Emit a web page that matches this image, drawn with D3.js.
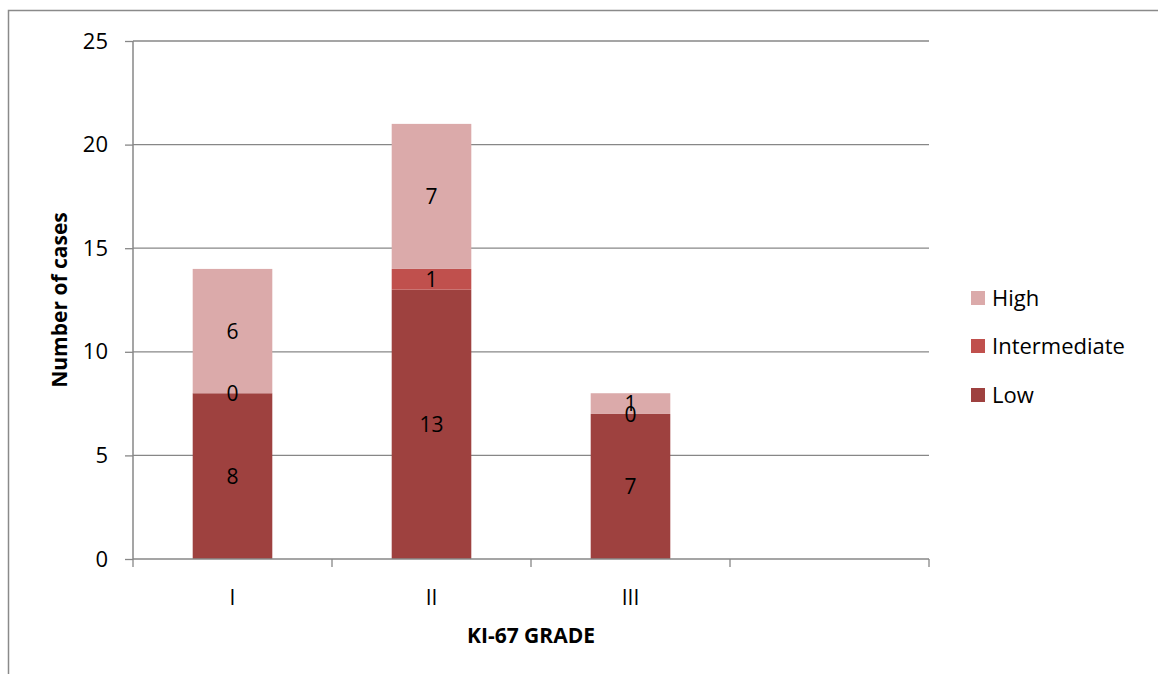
<!DOCTYPE html>
<html><head><meta charset="utf-8">
<script src="https://cdn.jsdelivr.net/npm/d3@7"></script>
<style>body{margin:0;background:#fff}svg{display:block}text{font-family:"Open Sans","Noto Sans",sans-serif}</style>
</head><body>
<script>
const categories = ["I", "II", "III", ""];
const low = [8, 13, 7, null];
const intermediate = [0, 1, 0, null];
const high = [6, 7, 1, null];
const yTicks = [0, 5, 10, 15, 20, 25];
const seriesNames = ["Low", "Intermediate", "High"];
const colors = {Low: "#9E413F", Intermediate: "#C0504D", High: "#DBAAAA"};

const W = 1158, H = 674;
const svg = d3.select("body").append("svg").attr("width", W).attr("height", H);
svg.append("rect").attr("x", 8.5).attr("y", 10.5).attr("width", W + 10).attr("height", H + 10)
  .attr("fill", "none").attr("stroke", "#8a8a8a").attr("stroke-width", 1.5);

const x = d3.scaleBand().domain(categories).range([133, 929]).padding(0);
const y = d3.scaleLinear().domain([0, 25]).range([559, 41]);
const grid = "#878787";

// gridlines
svg.append("g").selectAll("line").data(yTicks.filter(d => d > 0)).join("line")
  .attr("x1", 133).attr("x2", 929).attr("y1", d => y(d)).attr("y2", d => y(d))
  .attr("stroke", grid).attr("stroke-width", 1.3);

// y axis
const yAxis = svg.append("g").attr("transform", "translate(133,0)")
  .call(d3.axisLeft(y).tickValues(yTicks).tickSize(8).tickPadding(17).tickFormat(d3.format("d")));
yAxis.select(".domain").attr("stroke", grid).attr("stroke-width", 1.5).attr("d", "M0,41V559");
yAxis.selectAll(".tick line").attr("stroke", grid).attr("stroke-width", 1.3);
yAxis.selectAll(".tick text").attr("font-size", 22).attr("fill", "#000")
  .attr("font-family", '"Open Sans",sans-serif');

// stacked data
const rows = categories.map((c, i) => ({cat: c, Low: low[i], Intermediate: intermediate[i], High: high[i]}))
  .filter(r => r.Low !== null);
const stack = d3.stack().keys(seriesNames)(rows);
const bw = x.bandwidth() * 0.4;

stack.forEach(layer => {
  const g = svg.append("g");
  g.selectAll("rect").data(layer).join("rect")
    .attr("x", d => x(d.data.cat) + (x.bandwidth() - bw) / 2)
    .attr("width", bw)
    .attr("y", d => y(d[1]))
    .attr("height", d => y(d[0]) - y(d[1]))
    .attr("fill", colors[layer.key]);
});

// x axis
const xAxisG = svg.append("g");
xAxisG.append("line").attr("x1", 133).attr("x2", 929).attr("y1", 559).attr("y2", 559)
  .attr("stroke", grid).attr("stroke-width", 1.5);
const bounds = categories.map(c => x(c)).concat([x.range()[1]]);
xAxisG.selectAll("line.t").data(bounds).join("line").attr("class", "t")
  .attr("x1", d => d).attr("x2", d => d).attr("y1", 559).attr("y2", 567)
  .attr("stroke", grid).attr("stroke-width", 1.3);
xAxisG.selectAll("text").data(categories).join("text")
  .attr("x", d => x(d) + x.bandwidth() / 2).attr("y", 605)
  .attr("text-anchor", "middle").attr("font-size", 21).text(d => d);

// value labels
stack.forEach(layer => {
  svg.append("g").selectAll("text").data(layer).join("text")
    .attr("x", d => x(d.data.cat) + x.bandwidth() / 2)
    .attr("y", d => (y(d[0]) + y(d[1])) / 2)
    .attr("dy", "0.36em")
    .attr("text-anchor", "middle").attr("font-size", 21).attr("fill", "#000")
    .text(d => d[1] - d[0]);
});

// axis titles
svg.append("text").attr("x", 531).attr("y", 643).attr("text-anchor", "middle")
  .attr("font-size", 21).attr("font-weight", "bold").text("KI-67 GRADE");
svg.append("text").attr("transform", "translate(67,300) rotate(-90)").attr("text-anchor", "middle")
  .attr("font-size", 21).attr("font-weight", "bold").text("Number of cases");

// legend
const legendOrder = ["High", "Intermediate", "Low"];
const legY = [298, 346, 395];
const lg = svg.append("g");
legendOrder.forEach((k, i) => {
  lg.append("rect").attr("x", 971).attr("y", legY[i] - 7).attr("width", 14).attr("height", 14).attr("fill", colors[k]);
  lg.append("text").attr("x", 992).attr("y", legY[i]).attr("dy", "0.36em").attr("font-size", 22).text(k);
});
</script>
</body></html>
